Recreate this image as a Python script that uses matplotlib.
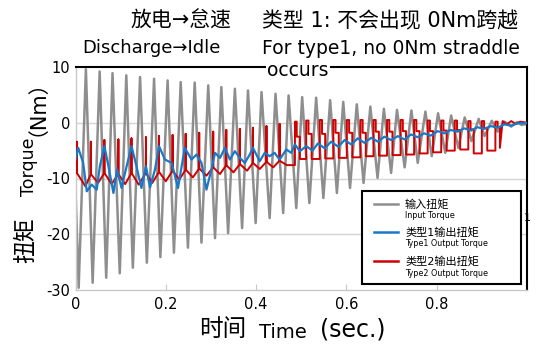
import matplotlib
matplotlib.use("Agg")
import matplotlib.pyplot as plt
from matplotlib.patches import Rectangle
from matplotlib.lines import Line2D

# wide Latin glyphs from DejaVu, CJK glyphs from Noto
plt.rcParams['font.family'] = ['DejaVu Sans', 'Noto Sans CJK SC']

W, H = 539, 344
GREY, BLUE, RED = "#8e8e8e", "#1a78c8", "#d00000"

# input torque: start, then alternating troughs / peaks
grey_t = [0.000, 0.007, 0.023, 0.038, 0.0535, 0.068, 0.082, 0.098, 0.1125, 0.127,
          0.143, 0.158, 0.174, 0.188, 0.204, 0.218, 0.233, 0.249, 0.264, 0.279,
          0.294, 0.309, 0.323, 0.338, 0.353, 0.369, 0.382, 0.399, 0.412, 0.430,
          0.443, 0.460, 0.472, 0.489, 0.502, 0.518, 0.533, 0.549, 0.564, 0.579,
          0.593, 0.608, 0.623, 0.638, 0.653, 0.669, 0.683, 0.699, 0.712, 0.729,
          0.744, 0.758, 0.775, 0.789, 0.803, 0.819, 0.832, 0.848, 0.862, 0.877,
          0.893, 0.906, 0.922, 0.935, 0.950, 0.965, 0.978, 0.988, 1.000]
grey_v = [-12.0, -29.6, 9.6, -28.7, 9.2, -27.8, 8.9, -27.0, 8.5, -26.0,
          8.2, -25.1, 7.9, -24.1, 7.6, -23.3, 7.3, -22.4, 7.2, -21.5,
          6.7, -20.7, 6.4, -19.8, 6.1, -18.9, 5.8, -18.0, 5.5, -17.1,
          5.2, -16.2, 4.9, -15.3, 4.6, -14.4, 4.5, -13.5, 4.05, -12.6,
          3.75, -11.7, 3.3, -10.8, 2.9, -9.9, 2.5, -9.0, 2.3, -8.0,
          2.2, -7.2, 2.0, -6.0, 1.7, -5.4, 1.3, -4.5, 0.95, -3.3,
          0.7, -2.4, 0.35, -1.6, 0.2, -0.7, 0.1, -0.4, -0.2]

# type 1 output torque
blue_t = [0.000, 0.006, 0.017, 0.025, 0.036, 0.047, 0.054, 0.064, 0.073, 0.084,
          0.092, 0.102, 0.110, 0.124, 0.135, 0.146, 0.156, 0.165, 0.176, 0.185,
          0.198, 0.213, 0.227, 0.242, 0.257, 0.268, 0.279, 0.290, 0.301, 0.309,
          0.320, 0.331, 0.342, 0.353, 0.364, 0.375, 0.386, 0.393, 0.408, 0.419,
          0.430, 0.441, 0.452, 0.467, 0.478, 0.486, 0.497, 0.511, 0.525, 0.537,
          0.552, 0.566, 0.582, 0.596, 0.611, 0.625, 0.640, 0.655, 0.670, 0.684,
          0.699, 0.714, 0.729, 0.743, 0.758, 0.772, 0.787, 0.802, 0.817, 0.831,
          0.846, 0.861, 0.876, 0.890, 0.905, 0.920, 0.935, 0.950, 0.965, 0.980,
          1.000]
blue_v = [-6.6, -4.5, -7.2, -12.3, -11.1, -12.0, -7.8, -4.2, -7.8, -12.6,
          -8.4, -11.7, -8.9, -4.2, -7.8, -11.7, -7.8, -11.6, -8.4, -4.2,
          -6.6, -7.2, -11.7, -4.5, -6.6, -5.7, -7.2, -12.0, -8.4, -5.4,
          -6.3, -4.5, -6.6, -5.1, -6.3, -7.2, -5.7, -4.5, -6.9, -5.4,
          -6.0, -5.4, -6.6, -4.8, -5.4, -3.9, -5.1, -4.2, -5.0, -3.7,
          -4.6, -3.4, -4.3, -3.1, -3.9, -2.8, -3.6, -2.7, -3.4, -2.5,
          -3.1, -2.4, -3.0, -2.1, -2.6, -1.9, -2.3, -1.5, -1.9, -1.3,
          -1.6, -1.0, -1.4, -0.8, -1.1, -0.6, -0.9, -0.3, -0.5, -0.1,
          -0.05]

# type 2 output torque, first half: thin spikes over a sagging base
red_spike_t = [0.003, 0.034, 0.064, 0.095, 0.124, 0.156, 0.185, 0.215, 0.244, 0.274,
               0.305, 0.334, 0.364, 0.393, 0.423, 0.452]
red_spike_top = [-3.4, -3.4, -3.1, -3.0, -2.8, -2.6, -2.4, -2.2, -2.0, -1.8,
                 -1.6, -1.3, -1.1, -0.9, -0.6, -0.2]
red_spike_base = [-9.0, -9.2, -9.0, -9.2, -9.0, -9.0, -8.8, -8.6, -8.4, -8.2,
                  -8.0, -7.6, -7.4, -7.2, -7.0, -6.8]
red_dip_t = [0.022, 0.050, 0.080, 0.110, 0.140, 0.170, 0.200, 0.230, 0.260, 0.290,
             0.320, 0.350, 0.380, 0.408, 0.438, 0.468]
red_dip_v = [-11.4, -10.8, -11.0, -11.0, -11.1, -10.8, -10.5, -10.2, -9.8, -9.5,
             -9.2, -8.9, -8.6, -8.3, -8.0, -7.6]

# type 2, second half: stepped square wave (rise, high, mid step, low)
red_rise_t = [0.486, 0.511, 0.541, 0.571, 0.601, 0.631, 0.660, 0.690, 0.720, 0.750,
              0.780, 0.810, 0.840, 0.870, 0.900, 0.930]
red_high = [0.2, 0.4, 0.5, 0.5, 0.5, 0.5, 0.5, 0.5, 0.5, 0.5,
            0.4, 0.4, 0.4, 0.3, 0.3, 0.2]
red_mid_t = [0.490, 0.516, 0.546, 0.576, 0.606, 0.636, 0.665, 0.695, 0.725, 0.755,
             0.785, 0.815, 0.845, 0.875, 0.905, 0.935]
red_mid = [-2.5, -2.0, -2.0, -1.8, -1.8, -1.8, -1.6, -1.6, -1.5, -1.5,
           -1.5, -1.4, -1.3, -1.2, -1.0, -0.8]
red_low_t = [0.497, 0.523, 0.553, 0.583, 0.613, 0.643, 0.672, 0.702, 0.732, 0.762,
             0.792, 0.822, 0.852, 0.882, 0.912, 0.940]
red_low = [-6.5, -6.5, -6.4, -6.3, -6.2, -6.0, -5.9, -5.8, -5.7, -5.5,
           -5.3, -5.0, -4.8, -5.5, -5.0, -4.5]
red_tail_t = [0.946, 0.955, 0.965, 0.975, 0.985, 1.000]
red_tail_v = [0.3, -0.3, 0.3, -0.2, 0.2, 0.0]

rt, rv = [0.0], [-8.5]
for s, top, base, mt, mv in zip(red_spike_t, red_spike_top, red_spike_base, red_dip_t, red_dip_v):
    rt += [s, s, s, mt]
    rv += [base, top, base, mv]
prev = red_dip_v[-1]
for r, hi, m1, md, m2, lo in zip(red_rise_t, red_high, red_mid_t, red_mid, red_low_t, red_low):
    rt += [r, r, m1, m1, m2, m2]
    rv += [prev, hi, hi, md, md, lo]
    prev = lo
rt += red_tail_t
rv += red_tail_v


def fx(x):
    return x / W


def fy(y):
    return 1 - y / H


fig = plt.figure(figsize=(W / 100, H / 100), dpi=100)
ax = fig.add_axes([fx(75.5), fy(290), (527 - 75.5) / W, (290 - 67) / H])

ax.plot(grey_t, grey_v, color=GREY, lw=1.8, solid_joinstyle="round", zorder=2)
ax.plot(rt, rv, color=RED, lw=1.4, zorder=3)
ax.plot(blue_t, blue_v, color=BLUE, lw=1.6, zorder=4)

ax.set_xlim(0, 1)
ax.set_ylim(-30, 10)
ax.set_yticks([10, 0, -10, -20, -30])
ax.set_yticklabels(["10", "0", "-10", "-20", "-30"])
ax.set_xticks([0, 0.2, 0.4, 0.6, 0.8])
ax.set_xticklabels(["0", "0.2", "0.4", "0.6", "0.8"])
ax.tick_params(axis="y", length=0, pad=4, labelsize=10.5)
ax.tick_params(axis="x", direction="in", length=4, color="#c8c8c8", pad=5, labelsize=10.5)
for y in [0, -10, -20]:
    ax.axhline(y, color="#d4d4d4", lw=1, zorder=1)
for side in ["left", "bottom"]:
    ax.spines[side].set_color("#c8c8c8")
    ax.spines[side].set_linewidth(1)
for side in ["top", "right"]:
    ax.spines[side].set_color("black")
    ax.spines[side].set_linewidth(1.5)

# titles
fig.text(fx(181), fy(21), "放电→怠速", ha="center", va="center", fontsize=15)
fig.text(fx(151), fy(48), "Discharge→Idle", ha="center", va="center", fontsize=13)
fig.text(fx(262), fy(21), "类型 1: 不会出现 0Nm跨越", ha="left", va="center", fontsize=15)
fig.text(fx(262), fy(48), "For type1, no 0Nm straddle", ha="left", va="center", fontsize=13.5)
fig.text(fx(267), fy(71), "occurs", ha="left", va="center", fontsize=13.5, zorder=12,
         bbox=dict(facecolor="white", edgecolor="none", pad=1.0))
fig.text(fx(524), fy(218), "1", ha="left", va="center", fontsize=8)

# axis labels
fig.text(fx(26), fy(240), "扭矩", rotation=90, ha="center", va="center", fontsize=16.5)
fig.text(fx(29), fy(167), "Torque", rotation=90, ha="center", va="center", fontsize=12.5)
fig.text(fx(27), fy(97), "（Nm）", rotation=90, ha="center", va="center", fontsize=15)
fig.text(fx(223), fy(329), "时间", ha="center", va="center", fontsize=17)
fig.text(fx(283), fy(332), "Time", ha="center", va="center", fontsize=14)
fig.text(fx(353), fy(329), "(sec.)", ha="center", va="center", fontsize=17)

# legend box
fig.add_artist(Rectangle((fx(362), fy(284)), (521 - 362) / W, (284 - 191) / H,
                         transform=fig.transFigure, facecolor="white", edgecolor="black",
                         lw=1.5, zorder=10))
rows = [("输入扭矩", "Input Torque", GREY, 204),
        ("类型1输出扭矩", "Type1 Output Torque", BLUE, 232),
        ("类型2输出扭矩", "Type2 Output Torque", RED, 261)]
for zh, en, c, y in rows:
    fig.add_artist(Line2D([fx(374), fx(398)], [fy(y), fy(y)], transform=fig.transFigure,
                          color=c, lw=1.8, zorder=11))
    fig.text(fx(405), fy(y), zh, ha="left", va="center", fontsize=8, zorder=11)
    fig.text(fx(405), fy(y + 12), en, ha="left", va="center", fontsize=5.8, zorder=11)

fig.savefig("out.png", dpi=100)
